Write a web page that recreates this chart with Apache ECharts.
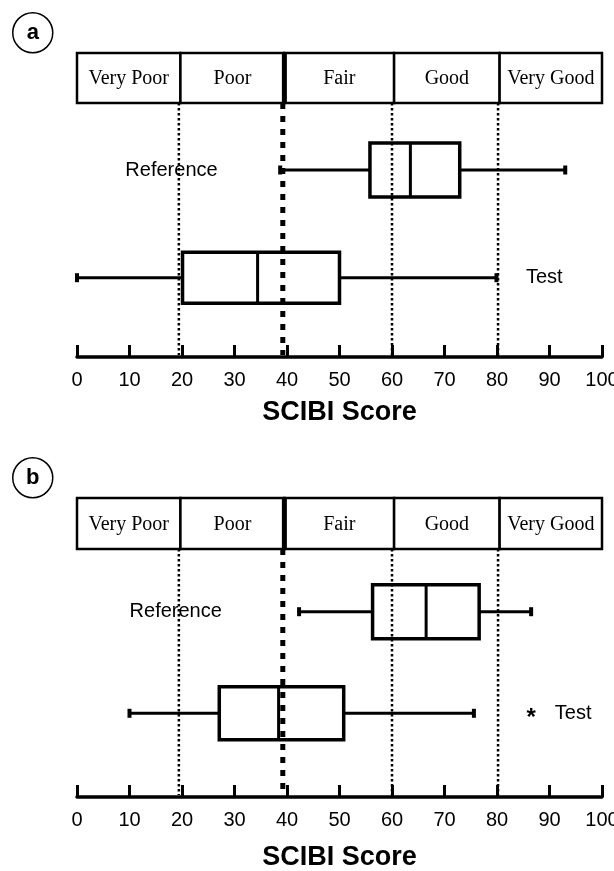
<!DOCTYPE html>
<html>
<head>
<meta charset="utf-8">
<script src="https://cdn.jsdelivr.net/npm/echarts@6/dist/echarts.min.js"></script>
<style>
  html, body { margin: 0; padding: 0; background: #fff; }
  #main { width: 614px; height: 871px; }
</style>
</head>
<body>
<div id="main"></div>
<script>
// condition classes along the SCIBI score
var bandNames = ['Very Poor', 'Poor', 'Fair', 'Good', 'Very Good'];
var bandEdges = [0, 19.7, 39.5, 60.4, 80.5, 100];
// vertical guides below the band (the 40 one is the thick dashed one)
var guideValues = [19.4, 39.2, 60, 80.2];
var thickGuide = 39.2;

// box data: [min, q1, median, q3, max]
var refA = [38.7, 55.8, 63.5, 72.9, 93.0];
var testA = [0, 20.1, 34.4, 50.0, 79.9];
var refB = [42.3, 56.3, 66.5, 76.6, 86.5];
var testB = [10.0, 27.1, 38.4, 50.8, 75.6];
var outlierB = [86.5];

var rowNames = ['Reference', 'Test'];
// where the row names sit on the score axis
var labelPosA = [18.0, 89.0];
var labelPosB = [18.8, 94.5];

var xTicks = [0, 10, 20, 30, 40, 50, 60, 70, 80, 90, 100];

// layout (pixels inside each grid)
var panels = [
  { letter: 'a', top: 53, height: 304, bandH: 50, rowY: [117, 224.7], half: [27, 25.5],
    boxes: [refA, testA], labelPos: labelPosA, outliers: [], nameGap: 42 },
  { letter: 'b', top: 498, height: 299, bandH: 51, rowY: [113.7, 215.3], half: [27, 26.5],
    boxes: [refB, testB], labelPos: labelPosB, outliers: outlierB, nameGap: 47 }
];

var myChart = echarts.init(document.getElementById('main'), null, { renderer: 'canvas' });

function px(api, v) {
  return api.coord([v, 0])[0];
}

var grids = [], xAxes = [], yAxes = [], series = [], graphics = [];

panels.forEach(function (p, gi) {
  grids.push({ left: 77, right: 12, top: p.top, height: p.height, containLabel: false, outerBoundsMode: 'none' });
  xAxes.push({
    gridIndex: gi, type: 'value', min: 0, max: 100, interval: 10,
    axisLine: { onZero: false, lineStyle: { color: '#000', width: 3.5 } },
    axisTick: { inside: true, length: 12, lineStyle: { color: '#000', width: 3 } },
    axisLabel: {
      color: '#000', fontSize: 20, fontFamily: 'Liberation Sans', margin: 13,
      formatter: function (v) { return xTicks.indexOf(v) >= 0 ? String(v) : ''; }
    },
    splitLine: { show: false },
    name: 'SCIBI Score', nameLocation: 'middle', nameGap: p.nameGap,
    nameTextStyle: { fontSize: 27, fontWeight: 'bold', fontFamily: 'Liberation Sans', color: '#000' }
  });
  yAxes.push({ gridIndex: gi, type: 'value', min: 0, max: 1, show: false });

  // dotted guides
  series.push({
    type: 'custom', xAxisIndex: gi, yAxisIndex: gi, z: 1,
    data: guideValues.map(function (v) { return [v]; }),
    encode: { x: 0 },
    renderItem: function (params, api) {
      var cs = params.coordSys;
      var v = api.value(0);
      var x = px(api, v);
      var thick = v === thickGuide;
      return {
        type: 'line',
        shape: { x1: x, y1: cs.y + p.bandH, x2: x, y2: cs.y + cs.height - 2 },
        style: thick
          ? { stroke: '#000', lineWidth: 5, lineDash: [6, 7] }
          : { stroke: '#000', lineWidth: 2.5, lineDash: [2.5, 2.5] }
      };
    }
  });

  // condition band
  series.push({
    type: 'custom', xAxisIndex: gi, yAxisIndex: gi, z: 3,
    data: bandNames.map(function (n, i) { return [bandEdges[i], bandEdges[i + 1]]; }),
    encode: { x: [0, 1] },
    renderItem: function (params, api) {
      var cs = params.coordSys;
      var i = params.dataIndex;
      var x1 = px(api, api.value(0)), x2 = px(api, api.value(1));
      var children = [
        { type: 'rect', shape: { x: x1, y: cs.y, width: x2 - x1, height: p.bandH },
          style: { fill: '#fff', stroke: '#000', lineWidth: 2.5 } },
        { type: 'text', style: {
            text: bandNames[i], x: (x1 + x2) / 2, y: cs.y + p.bandH / 2 + 1,
            align: 'center', verticalAlign: 'middle',
            fontSize: 20, fontFamily: 'Liberation Serif', fill: '#000' } }
      ];
      if (i === 2) {
        children.push({ type: 'line', shape: { x1: x1, y1: cs.y, x2: x1, y2: cs.y + p.bandH },
          style: { stroke: '#000', lineWidth: 5 } });
      }
      return { type: 'group', children: children };
    }
  });

  // box plots
  series.push({
    type: 'custom', xAxisIndex: gi, yAxisIndex: gi, z: 4,
    data: p.boxes,
    encode: { x: [0, 1, 2, 3, 4] },
    renderItem: function (params, api) {
      var cs = params.coordSys;
      var r = params.dataIndex;
      var y = cs.y + p.rowY[r];
      var h = p.half[r];
      var lo = px(api, api.value(0)), q1 = px(api, api.value(1)), md = px(api, api.value(2)),
          q3 = px(api, api.value(3)), hi = px(api, api.value(4));
      var ls = { stroke: '#000', lineWidth: 3 };
      return {
        type: 'group',
        children: [
          { type: 'line', shape: { x1: lo, y1: y, x2: q1, y2: y }, style: ls },
          { type: 'line', shape: { x1: q3, y1: y, x2: hi, y2: y }, style: ls },
          { type: 'line', shape: { x1: lo, y1: y - 4.5, x2: lo, y2: y + 4.5 }, style: { stroke: '#000', lineWidth: 4 } },
          { type: 'line', shape: { x1: hi, y1: y - 4.5, x2: hi, y2: y + 4.5 }, style: { stroke: '#000', lineWidth: 4 } },
          { type: 'rect', shape: { x: q1, y: y - h, width: q3 - q1, height: 2 * h },
            style: { fill: 'rgba(255,255,255,0)', stroke: '#000', lineWidth: 3.5 } },
          { type: 'line', shape: { x1: md, y1: y - h, x2: md, y2: y + h }, style: ls }
        ]
      };
    }
  });

  // row names
  series.push({
    type: 'custom', xAxisIndex: gi, yAxisIndex: gi, z: 5,
    data: p.labelPos.map(function (v) { return [v]; }),
    encode: { x: 0 },
    renderItem: function (params, api) {
      var cs = params.coordSys;
      var r = params.dataIndex;
      return {
        type: 'text',
        style: {
          text: rowNames[r], x: px(api, api.value(0)), y: cs.y + p.rowY[r],
          align: 'center', verticalAlign: 'middle',
          fontSize: 20, fontFamily: 'Liberation Sans', fill: '#000'
        }
      };
    }
  });

  // outliers (asterisk on the Test row)
  if (p.outliers.length) {
    series.push({
      type: 'custom', xAxisIndex: gi, yAxisIndex: gi, z: 5,
      data: p.outliers.map(function (v) { return [v]; }),
      encode: { x: 0 },
      renderItem: function (params, api) {
        var cs = params.coordSys;
        return {
          type: 'text',
          style: {
            text: '*', x: px(api, api.value(0)), y: cs.y + p.rowY[1] + 5,
            align: 'center', verticalAlign: 'middle',
            fontSize: 24, fontWeight: 'bold', fontFamily: 'Liberation Sans', fill: '#000'
          }
        };
      }
    });
  }

  // panel letter in a circle
  var cy = gi === 0 ? 33 : 478;
  graphics.push({
    type: 'group', left: 12, top: cy - 21,
    children: [
      { type: 'circle', shape: { cx: 21, cy: 21, r: 20 }, style: { fill: '#fff', stroke: '#000', lineWidth: 1.5 } },
      { type: 'text', style: { text: p.letter, x: 21, y: 21, align: 'center', verticalAlign: 'middle',
          fontSize: 22, fontWeight: 'bold', fontFamily: 'Liberation Sans', fill: '#000' } }
    ]
  });
});

myChart.setOption({
  backgroundColor: '#fff',
  animation: false,
  grid: grids,
  xAxis: xAxes,
  yAxis: yAxes,
  series: series,
  graphic: graphics
});
</script>
</body>
</html>
